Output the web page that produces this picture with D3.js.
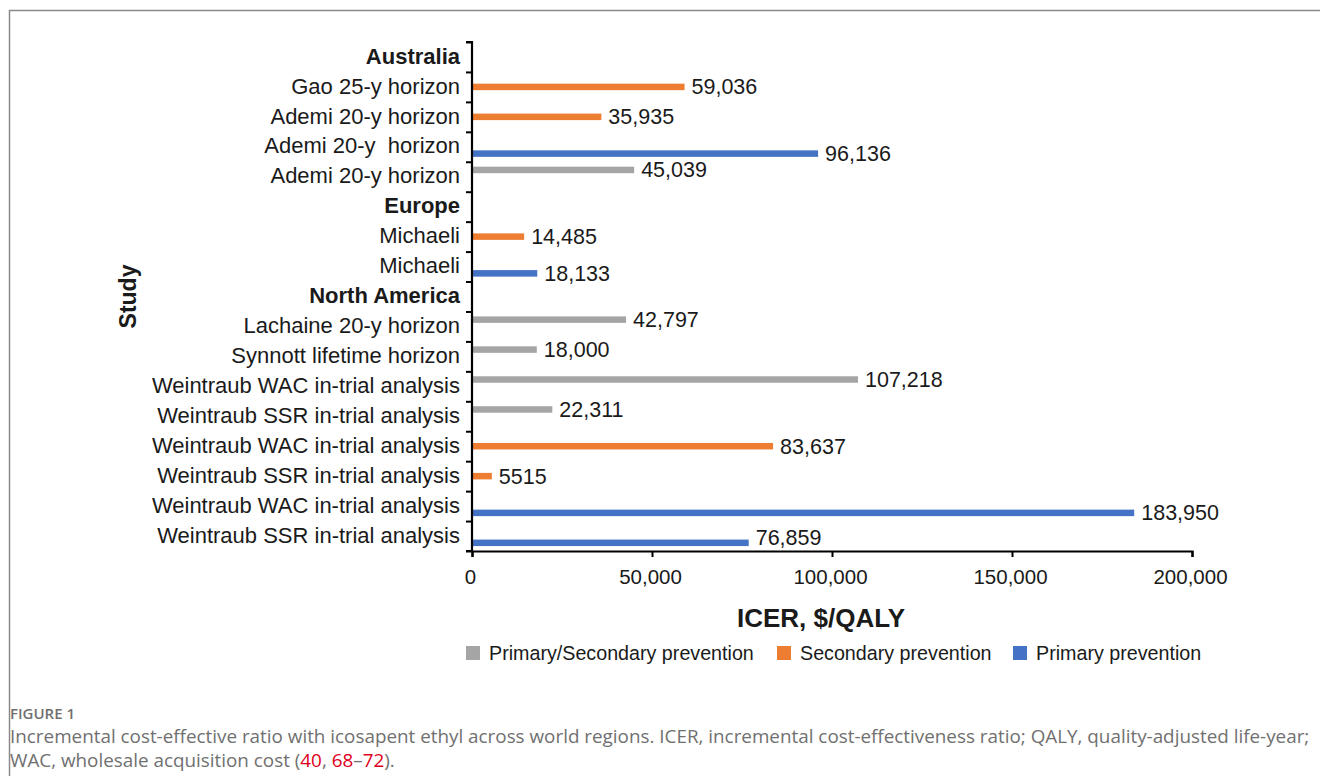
<!DOCTYPE html>
<html><head><meta charset="utf-8">
<script src="https://cdn.jsdelivr.net/npm/d3@7"></script>
<style>
html,body{margin:0;padding:0;background:#fff;}
svg{display:block;}
</style></head>
<body>
<svg id="c" width="1320" height="776"></svg>
<script>
// ---- data ----
const rowLabels = ["Australia","Gao 25-y horizon","Ademi 20-y horizon","Ademi 20-y  horizon","Ademi 20-y horizon",
  "Europe","Michaeli","Michaeli",
  "North America","Lachaine 20-y horizon","Synnott lifetime horizon",
  "Weintraub WAC in-trial analysis","Weintraub SSR in-trial analysis",
  "Weintraub WAC in-trial analysis","Weintraub SSR in-trial analysis",
  "Weintraub WAC in-trial analysis","Weintraub SSR in-trial analysis"];
const rowIsHeader = [true,false,false,false,false,true,false,false,true,false,false,false,false,false,false,false,false];
// series index per row: 0 = Primary/Secondary, 1 = Secondary, 2 = Primary
const rowSeries = [null,1,1,2,0,null,1,2,null,0,0,0,0,1,1,2,2];
const rowValues = [null,59036,35935,96136,45039,null,14485,18133,null,42797,18000,107218,22311,83637,5515,183950,76859];
const seriesNames = ["Primary/Secondary prevention","Secondary prevention","Primary prevention"];
const seriesColors = ["#a5a5a5","#ed7d31","#4472c4"];
const xTicks = [0,50000,100000,150000,200000];
const xTitle = "ICER, $/QALY";
const yTitle = "Study";
const figLabel = "FIGURE 1";

(function(){
const svg = d3.select("#c");
const font = "'Liberation Sans', Arial, sans-serif";
const ink = "#1a1a1a";

// frame
svg.append("path").attr("d","M9.5,776 V10.5 H1320").attr("fill","none").attr("stroke","#8a8a8a").attr("stroke-width",1.5);

const pL = 472, pR = 1192, pT = 42, pB = 551;
const x = d3.scaleLinear().domain([0,200000]).range([pL,pR]);
const ids = rowLabels.map((d,i)=>i);
const y = d3.scaleBand().domain(ids).range([pT,pB]).padding(0);
const yB = d3.scaleLinear().domain([0,rowLabels.length]).range([pT,pB]);
const seriesOffset = d3.scalePoint().domain([0,1,2]).range([-6.8,6.8]);
const barH = 6.5;

// bars
const rows = ids.filter(i=>rowValues[i]!=null);
svg.append("g").selectAll("rect").data(rows).join("rect")
  .attr("x",x(0)+1)
  .attr("y",i=>y(i)+y.bandwidth()/2+seriesOffset(rowSeries[i])-barH/2)
  .attr("width",i=>x(rowValues[i])-x(0)-1)
  .attr("height",barH)
  .attr("fill",i=>seriesColors[rowSeries[i]]);

const fmt = v => v>=10000 ? d3.format(",")(v) : String(v);
svg.append("g").selectAll("text").data(rows).join("text")
  .attr("x",i=>x(rowValues[i])+7)
  .attr("y",i=>Math.min(y(i)+y.bandwidth()/2+seriesOffset(rowSeries[i]), pB-14))
  .attr("dy","0.35em")
  .attr("font-family",font).attr("font-size",21.5).attr("fill",ink)
  .text(i=>fmt(rowValues[i]));

// y axis (ticks at band boundaries)
const gy = svg.append("g").attr("transform",`translate(${pL},0)`)
  .call(d3.axisLeft(yB).tickValues(d3.range(0,rowLabels.length+1)).tickSize(6).tickFormat(""));
gy.select(".domain").attr("stroke","#000").attr("stroke-width",2.2).attr("d",`M-6,${pT}H0V${pB}H-6`);
gy.selectAll(".tick line").attr("stroke","#000").attr("stroke-width",2);

// y labels
svg.append("g").selectAll("text").data(ids).join("text")
  .attr("x",460).attr("y",i=>y(i)+y.bandwidth()/2-1).attr("dy","0.35em")
  .attr("text-anchor","end")
  .attr("font-family",font).attr("font-size",22)
  .attr("font-weight",i=>rowIsHeader[i]?"bold":"normal")
  .attr("fill",ink)
  .style("white-space","pre")
  .text(i=>rowLabels[i]);

// x axis
const gx = svg.append("g").attr("transform",`translate(0,${pB})`)
  .call(d3.axisBottom(x).tickValues(xTicks).tickSize(6).tickPadding(12).tickFormat(d3.format(",")));
gx.select(".domain").attr("stroke","#000").attr("stroke-width",2.2);
gx.selectAll(".tick line").attr("stroke","#000").attr("stroke-width",2);
gx.selectAll(".tick text").attr("font-family",font).attr("font-size",20.5).attr("fill",ink).attr("dx",-2);

// titles
svg.append("text").attr("x",821).attr("y",618).attr("dy","0.35em").attr("text-anchor","middle")
  .attr("font-family",font).attr("font-size",26).attr("font-weight","bold").attr("fill",ink).text(xTitle);
svg.append("text").attr("transform",`translate(128,${(pT+pB)/2}) rotate(-90)`).attr("dy","0.35em")
  .attr("text-anchor","middle").attr("font-family",font).attr("font-size",23).attr("font-weight","bold").attr("fill",ink).text(yTitle);

// legend
const legX = [466,777,1013];
const lg = svg.append("g").selectAll("g").data(seriesNames).join("g")
  .attr("transform",(d,i)=>`translate(${legX[i]},653)`);
lg.append("rect").attr("x",0).attr("y",-7).attr("width",14).attr("height",14).attr("fill",(d,i)=>seriesColors[i]);
lg.append("text").attr("x",23).attr("y",0).attr("dy","0.35em").attr("font-family",font).attr("font-size",19.7).attr("fill",ink).text(d=>d);

// caption
const capFont = "'Open Sans', 'Noto Sans', sans-serif";
svg.append("text").attr("x",10).attr("y",719).attr("font-family",capFont).attr("font-size",15).attr("font-weight",600).attr("fill","#707070").text(figLabel);
svg.append("text").attr("x",10).attr("y",743).attr("font-family",capFont).attr("font-size",18.85).attr("fill","#707070")
  .text("Incremental cost-effective ratio with icosapent ethyl across world regions. ICER, incremental cost-effectiveness ratio; QALY, quality-adjusted life-year;");
const cap2 = svg.append("text").attr("x",10).attr("y",767).attr("font-family",capFont).attr("font-size",18.85).attr("fill","#707070");
cap2.append("tspan").text("WAC, wholesale acquisition cost (");
cap2.append("tspan").attr("fill","#e0001b").text("40");
cap2.append("tspan").text(", ");
cap2.append("tspan").attr("fill","#e0001b").text("68");
cap2.append("tspan").text("–");
cap2.append("tspan").attr("fill","#e0001b").text("72");
cap2.append("tspan").text(").");
})();
</script>
</body></html>
